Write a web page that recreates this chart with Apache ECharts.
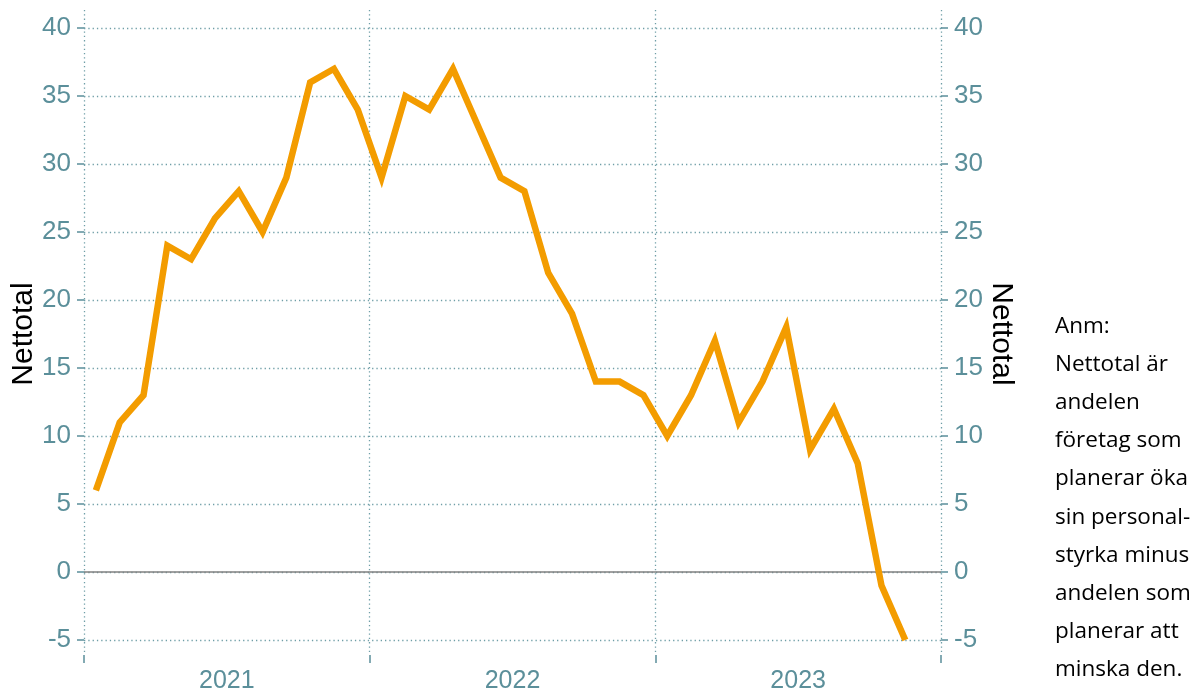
<!DOCTYPE html>
<html>
<head>
<meta charset="utf-8">
<script src="https://cdn.jsdelivr.net/npm/echarts@6/dist/echarts.min.js"></script>
<style>
  html, body { margin: 0; padding: 0; background: #fff; }
  #chart { width: 1199px; height: 697px; }
</style>
</head>
<body>
<div id="chart"></div>
<script>
  // månader jan 2021 - dec 2023
  const months = []
  for (let y = 2021; y <= 2023; y++) {
    for (let m = 1; m <= 12; m++) {
      months.push(y + '-' + (m < 10 ? '0' + m : m))
    }
  }
  const years = ['2021', '2022', '2023']

  // nettotal, jan 2021 - nov 2023
  const nettotal = [
    6, 11, 13, 24, 23, 26, 28, 25, 29, 36, 37, 34,
    29, 35, 34, 37, 33, 29, 28, 22, 19, 14, 14, 13,
    10, 13, 17, 11, 14, 18, 9, 12, 8, -1, -5
  ]

  const note = [
    'Anm:',
    'Nettotal är',
    'andelen',
    'företag som',
    'planerar öka',
    'sin personal-',
    'styrka minus',
    'andelen som',
    'planerar att',
    'minska den.'
  ]

  const teal = '#5b8f9a'
  const dotted = {
    show: true,
    lineStyle: { color: '#6f9ea7', width: 1.3, type: [1.3, 3] }
  }

  const yAxisBase = {
    type: 'value',
    gridIndex: 0,
    min: -5,
    max: 40,
    interval: 5,
    name: 'Nettotal',
    nameLocation: 'middle',
    nameGap: 45,
    nameMoveOverlap: false,
    nameTextStyle: { color: '#000', fontSize: 30, fontFamily: 'Liberation Sans' },
    axisLine: { show: false },
    axisTick: { show: true, length: 7, lineStyle: { color: teal, width: 1.5 } },
    axisLabel: { color: teal, fontSize: 26, fontFamily: 'Liberation Sans', margin: 13 },
    splitLine: dotted
  }

  const myChart = echarts.init(document.getElementById('chart'))
  const option = {
    animation: false,
    grid: [
      { left: 84, right: 258, top: 28, bottom: 57, outerBoundsMode: 'none', containLabel: false },
      { left: 84, right: 258, top: 10, bottom: 42, outerBoundsMode: 'none', containLabel: false }
    ],
    xAxis: [
      {
        type: 'category',
        gridIndex: 0,
        data: months,
        boundaryGap: true,
        axisLine: { show: false },
        axisTick: { show: false },
        axisLabel: { show: false },
        splitLine: { show: false }
      },
      {
        type: 'category',
        gridIndex: 1,
        data: years,
        boundaryGap: true,
        axisLine: { show: false },
        axisTick: { show: true, length: 8, lineStyle: { color: teal, width: 1.5 } },
        axisLabel: { color: teal, fontSize: 25, fontFamily: 'Liberation Sans', margin: 14 },
        splitLine: dotted
      }
    ],
    yAxis: [
      Object.assign({}, yAxisBase, { position: 'left', nameRotate: 90 }),
      Object.assign({}, yAxisBase, { position: 'right', nameRotate: -90, splitLine: { show: false } }),
      { type: 'value', gridIndex: 1, min: 0, max: 1, show: false }
    ],
    series: [
      {
        type: 'line',
        xAxisIndex: 0,
        yAxisIndex: 0,
        data: nettotal,
        symbol: 'none',
        lineStyle: { color: '#f39c00', width: 6.5, join: 'miter' },
        markLine: {
          silent: true,
          symbol: 'none',
          label: { show: false },
          lineStyle: { color: '#808080', width: 1.5, type: 'solid' },
          data: [{ yAxis: 0 }]
        },
        z: 5
      }
    ],
    graphic: [
      {
        type: 'text',
        left: 1055,
        top: 307,
        style: {
          text: note.join('\n'),
          fill: '#000',
          fontSize: 22.5,
          lineHeight: 38.2,
          fontFamily: 'Open Sans'
        }
      }
    ]
  }
  myChart.setOption(option)
</script>
</body>
</html>
